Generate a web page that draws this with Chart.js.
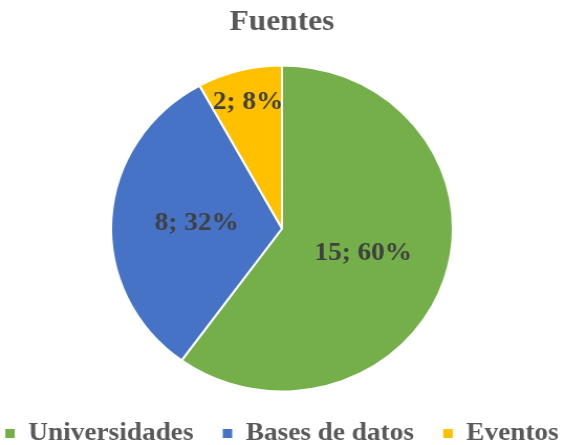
<!DOCTYPE html>
<html>
<head>
<meta charset="utf-8">
<script src="https://cdn.jsdelivr.net/npm/chart.js@4"></script>
<style>
  html, body { margin: 0; padding: 0; background: #ffffff; overflow: hidden; }
  /* the source picture is a little wider than tall, so stretch it the same way */
  #wrap { width: 538px; height: 445px; transform: scaleX(1.0483); transform-origin: 0 0; }
</style>
</head>
<body>
<div id="wrap"><canvas id="fuentes-chart" width="538" height="445"></canvas></div>
<script>
// Fuentes pie chart

const categories = ["Universidades", "Bases de datos", "Eventos"];
const counts = [15, 8, 2];
const sliceColors = ["#74AF4A", "#4673C6", "#FFC000"];

const serif = "'Liberation Serif', 'Times New Roman', serif";

// draws "n; p%" inside each slice
const sliceLabels = {
  id: "sliceLabels",
  afterDatasetsDraw(chart, args, opts) {
    const ctx = chart.ctx;
    const meta = chart.getDatasetMeta(0);
    const data = chart.data.datasets[0].data;
    const total = data.reduce((a, b) => a + b, 0);
    ctx.save();
    ctx.font = "bold 26px " + serif;
    ctx.fillStyle = "#404040";
    ctx.textAlign = "center";
    ctx.textBaseline = "middle";
    meta.data.forEach((arc, i) => {
      const p = arc.getProps(["x", "y", "startAngle", "endAngle", "outerRadius"], true);
      const mid = (p.startAngle + p.endAngle) / 2;
      const r = p.outerRadius * opts.ratios[i];
      const pct = Math.round(data[i] / total * 100);
      ctx.fillText(data[i] + "; " + pct + "%", p.x + Math.cos(mid) * r, p.y + Math.sin(mid) * r);
    });
    ctx.restore();
  }
};

const defaultLabels = Chart.overrides.pie.plugins.legend.labels.generateLabels;

new Chart(document.getElementById("fuentes-chart").getContext("2d"), {
  type: "pie",
  data: {
    labels: categories,
    datasets: [{
      data: counts,
      backgroundColor: sliceColors,
      borderColor: "#ffffff",
      borderWidth: 2
    }]
  },
  plugins: [sliceLabels],
  options: {
    responsive: false,
    animation: false,
    // negative sides give the legend room for one row
    layout: { padding: { top: 0, bottom: 0, left: -40, right: -40 } },
    plugins: {
      title: {
        display: true,
        text: "Fuentes",
        color: "#595959",
        font: { family: serif, size: 30, weight: "bold" },
        padding: { top: 4, bottom: 24.5 }
      },
      legend: {
        position: "bottom",
        maxHeight: 52.5,
        labels: {
          color: "#595959",
          font: { family: serif, size: 26, weight: "bold" },
          boxWidth: 9,
          boxHeight: 9,
          padding: 28,
          // plain squares, no white outline
          generateLabels: (chart) => defaultLabels(chart).map(item => {
            item.lineWidth = 0;
            return item;
          })
        }
      },
      tooltip: { enabled: false },
      sliceLabels: { ratios: [0.5, 0.5, 0.8] }
    }
  }
});
</script>
</body>
</html>
